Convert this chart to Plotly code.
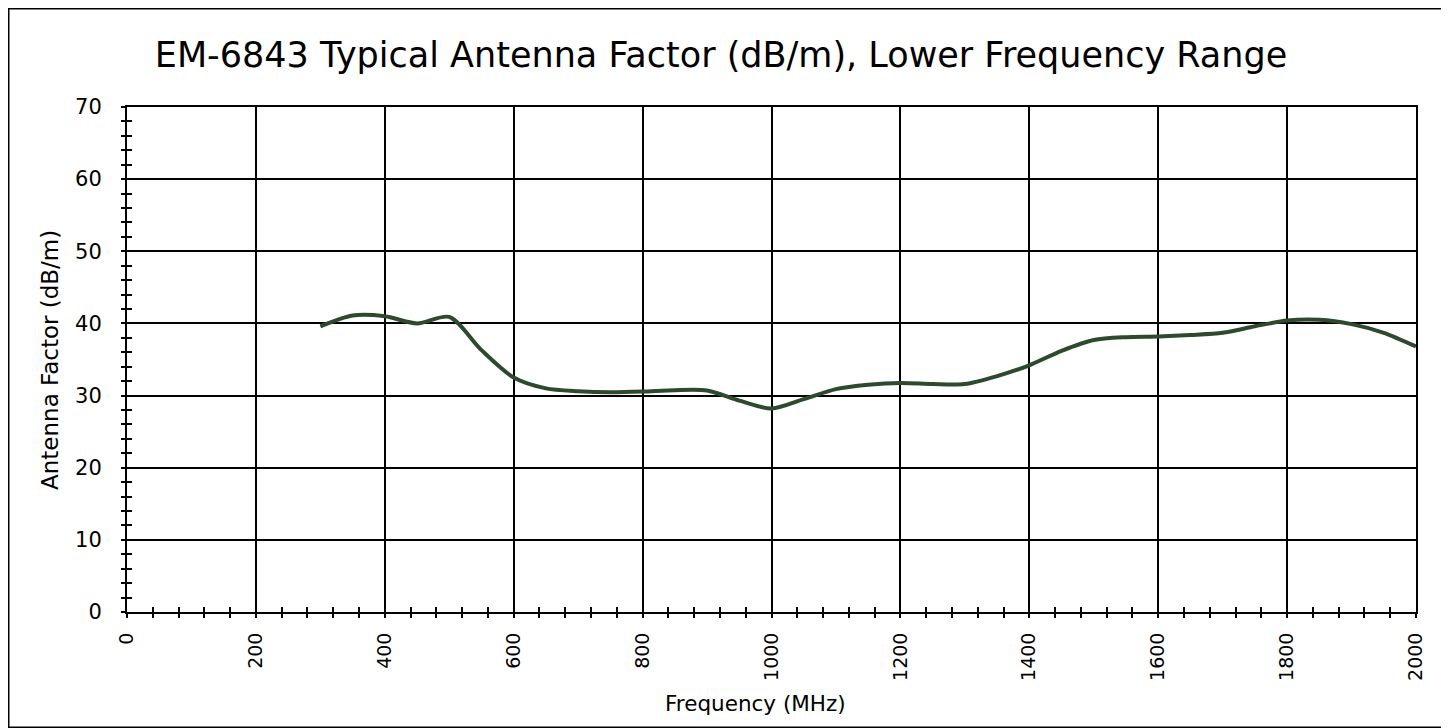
import plotly.graph_objects as go

freq_mhz = [300, 350, 400, 450, 500, 550, 600, 650, 700, 750, 800, 850, 900, 950,
            1000, 1050, 1100, 1150, 1200, 1250, 1300, 1350, 1400, 1450, 1500, 1550,
            1600, 1650, 1700, 1750, 1800, 1850, 1900, 1950, 2000]
antenna_factor = [39.6, 41.1, 41.0, 40.0, 40.9, 36.3, 32.5, 31.0, 30.6, 30.45, 30.55, 30.75, 30.7, 29.3,
                  28.2, 29.5, 30.9, 31.5, 31.75, 31.6, 31.6, 32.7, 34.2, 36.2, 37.7, 38.1,
                  38.2, 38.4, 38.7, 39.6, 40.4, 40.5, 39.9, 38.7, 36.8]

title_text = "EM-6843 Typical Antenna Factor (dB/m), Lower Frequency Range"
x_title = "Frequency (MHz)"
y_title = "Antenna Factor (dB/m)"

FONT = "DejaVu Sans, Calibri, sans-serif"
OFF = 8  # page body margin
W, H = 1449 - OFF, 728 - OFF
# plot area in window pixels: left 127, right 1416, top 107, bottom 612
L = 127 - OFF
T = 107 - OFF
R = W - (1416 - OFF)
B = H - (612 - OFF)
pw, ph = W - L - R, H - T - B


def px(xw):
    return (xw - OFF - L) / pw


def py(yw):
    return (T + ph - (yw - OFF)) / ph


fig = go.Figure()
fig.add_trace(go.Scatter(x=freq_mhz, y=antenna_factor, mode="lines",
                         line=dict(color="#2d4a2d", width=4, shape="spline", smoothing=0.8),
                         showlegend=False, hoverinfo="x+y"))
# invisible trace for the overlay axes (outer half of crossing ticks)
fig.add_trace(go.Scatter(x=freq_mhz, y=antenna_factor, mode="lines", xaxis="x2", yaxis="y2",
                         line=dict(width=0), opacity=0, showlegend=False, hoverinfo="skip"))

axis_common = dict(showline=True, linecolor="black", linewidth=2, zeroline=False)

fig.update_layout(
    width=W, height=H,
    margin=dict(l=L, r=R, t=T, b=B),
    paper_bgcolor="white", plot_bgcolor="white",
    font=dict(family=FONT, color="black"),
    title=dict(text=title_text, x=(721 - OFF) / W, xref="container", xanchor="center",
               y=1 - (55 - OFF) / H, yref="container", yanchor="middle",
               font=dict(size=35, family=FONT, color="black")),
    xaxis=dict(range=[0, 2000], dtick=200, tick0=0, tickangle=-90,
               showgrid=True, gridcolor="black", gridwidth=1.6,
               ticks="inside", ticklen=5, tickwidth=1.5, tickcolor="black",
               ticklabelstandoff=11,
               minor=dict(dtick=40, ticks="inside", ticklen=5, tickwidth=1.5, tickcolor="black", showgrid=False),
               tickfont=dict(size=19, family=FONT), mirror=True, **axis_common),
    yaxis=dict(range=[0, 70], dtick=10, tick0=0,
               showgrid=True, gridcolor="black", gridwidth=1.6,
               ticks="inside", ticklen=5, tickwidth=1.5, tickcolor="black",
               ticklabelstandoff=19,
               minor=dict(dtick=2, ticks="inside", ticklen=5, tickwidth=1.5, tickcolor="black", showgrid=False),
               tickfont=dict(size=21, family=FONT), mirror=True, **axis_common),
    xaxis2=dict(range=[0, 2000], dtick=200, tick0=0, overlaying="x", side="bottom",
                showgrid=False, showticklabels=False,
                ticks="outside", ticklen=5, tickwidth=1.5, tickcolor="black",
                minor=dict(dtick=40, ticks="outside", ticklen=5, tickwidth=1.5, tickcolor="black"),
                showline=False, zeroline=False),
    yaxis2=dict(range=[0, 70], dtick=10, tick0=0, overlaying="y", side="left",
                showgrid=False, showticklabels=False,
                ticks="outside", ticklen=5, tickwidth=1.5, tickcolor="black",
                minor=dict(dtick=2, ticks="outside", ticklen=5, tickwidth=1.5, tickcolor="black"),
                showline=False, zeroline=False),
    annotations=[
        dict(text=x_title, xref="paper", yref="paper", x=px(755), y=py(703),
             showarrow=False, xanchor="center", yanchor="middle", font=dict(size=21.5, family=FONT)),
        dict(text=y_title, xref="paper", yref="paper", x=px(50), y=py(360),
             showarrow=False, xanchor="center", yanchor="middle", textangle=-90,
             font=dict(size=23, family=FONT)),
    ],
    shapes=[dict(type="rect", xref="paper", yref="paper",
                 x0=(0.75 - L) / pw, x1=px(1446),
                 y0=(T + ph - (H - 0.75)) / ph, y1=(T + ph - 0.75) / ph,
                 line=dict(color="black", width=1.5), fillcolor="rgba(0,0,0,0)", layer="below")],
)

fig.write_html("out.html")
